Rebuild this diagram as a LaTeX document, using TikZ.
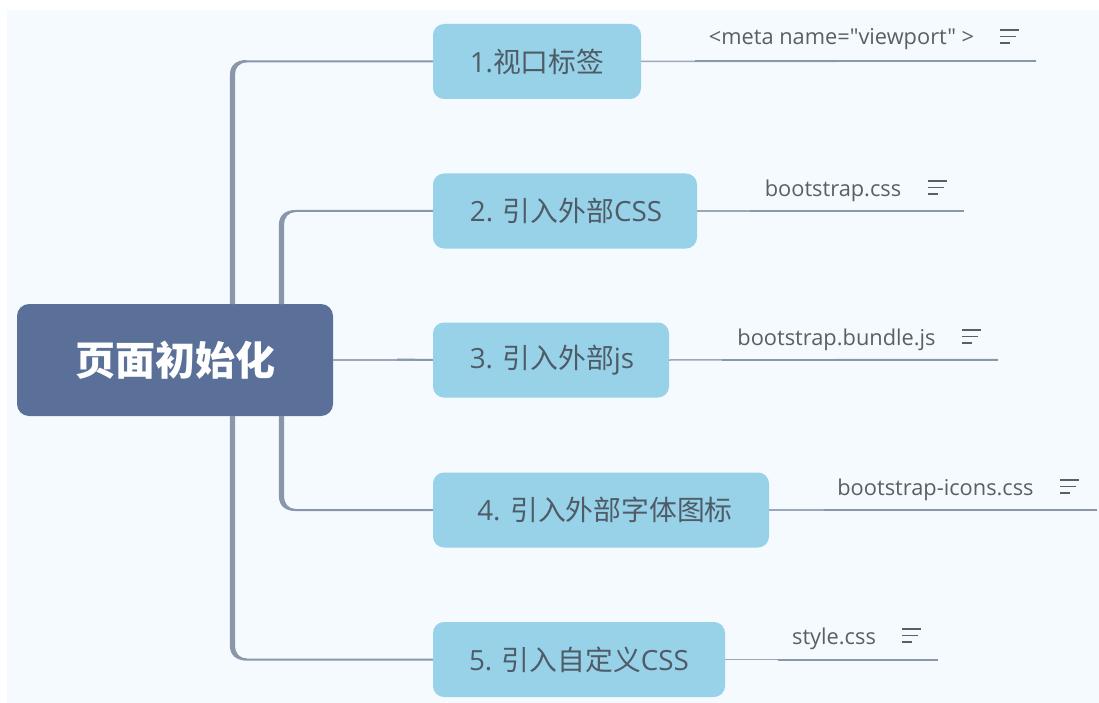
\documentclass[tikz,border=0pt]{standalone}
\usepackage{fontspec}
\setmainfont{Open Sans}
\newfontfamily\plainsans{Open Sans}
\newfontfamily\cjk{Noto Sans CJK SC}
\definecolor{bgc}{HTML}{F4FAFE}
\definecolor{rootc}{HTML}{5A7099}
\definecolor{boxc}{HTML}{97D2E8}
\definecolor{linec}{HTML}{8A97AB}
\definecolor{linel}{HTML}{9CA7B8}
\definecolor{textc}{HTML}{4F5B66}
\definecolor{leaftext}{HTML}{5A5F66}
\tikzset{
  rootbox/.style={draw=none,fill=rootc,rounded corners=12pt,inner sep=0pt,text=white,font=\cjk\fontsize{40}{44}\selectfont\bfseries},
  topic/.style={draw=none,fill=boxc,rounded corners=11pt,inner sep=0pt,text=textc,minimum height=75pt,font=\fontsize{27.8}{32}\selectfont},
  leaf/.style={inner sep=0pt,text=leaftext,anchor=base,font=\plainsans\fontsize{21.8}{26}\selectfont},
  branch/.style={draw=linec,line width=2pt,rounded corners=14pt},
  thinline/.style={draw=linel,line width=1.5pt},
  underline/.style={draw=linec,line width=2pt},
  noteline/.style={draw=leaftext,line width=1.4pt},
}
\newcommand{\taper}[4]{% x, ystart, ytarget, sign
  \fill[linec] ({#1-2.6},#2) -- ({#1-2.6},{#3-#4*14})
    .. controls ({#1-2.6},{#3-#4*4}) and ({#1+4},{#3+#4*1}) .. ({#1+14},{#3+#4*1})
    -- ({#1+14},{#3-#4*1})
    .. controls ({#1+7},{#3-#4*1}) and ({#1+2.6},{#3-#4*6}) .. ({#1+2.6},{#3-#4*14})
    -- ({#1+2.6},#2) -- cycle;}
\newcommand{\noteicon}[2]{% left x, top y
  \draw[noteline] (#1,#2) -- ++(19,0);
  \draw[noteline] (#1,{#2+6.5}) -- ++(16,0);
  \draw[noteline] (#1,{#2+13}) -- ++(10,0);}
\begin{document}
\begin{tikzpicture}[x=1pt,y=-1pt]
\useasboundingbox (0,0) rectangle (1099,703);
\fill[white] (0,0) rectangle (1099,703);
\fill[bgc] (7,10) rectangle (1099,703);

% connector ends
\coordinate (e1) at (1036,61);
\coordinate (e2) at (964,211);
\coordinate (e3) at (998,359.5);
\coordinate (e4) at (1097,510);
\coordinate (e5) at (938,659.5);
\coordinate (s1) at (695,61);
\coordinate (s2) at (750,211);
\coordinate (s3) at (722,359.5);
\coordinate (s4) at (824,510);
\coordinate (s5) at (778,659.5);
\coordinate (m3) at (397,359.5);

% nodes
\node[rootbox,minimum width=316pt,minimum height=112pt] (root) at (175,360) {页面初始化};
\node[topic,minimum width=208pt] (n1) at (537,61.5) {1.{\cjk 视口标签}};
\node[topic,minimum width=264pt] (n2) at (565,211) {\hspace{2pt}2. {\cjk 引入外部}CSS};
\node[topic,minimum width=236pt] (n3) at (551,360) {\hspace{2pt}3. {\cjk 引入外部}js};
\node[topic,minimum width=336pt] (n4) at (601,510) {\hspace{8pt}4. {\cjk 引入外部字体图标}};
\node[topic,minimum width=292pt] (n5) at (579,659.5) {5. {\cjk 引入自定义}CSS};

% branches
\draw[branch] (232.5,304) |- (n1.west);
\taper{232.5}{304}{61}{-1}
\draw[branch] (281.5,304) |- (n2.west);
\taper{281.5}{304}{211}{-1}
\draw[thinline] (root.east) -- (n3.west);
\draw[underline] (m3) -- (n3.west);
\draw[branch] (281.5,416) |- (n4.west);
\taper{281.5}{416}{510}{1}
\draw[branch] (232.5,416) |- (n5.west);
\taper{232.5}{416}{659.5}{1}

% leaves
\draw[thinline] (n1.east) -- (e1); \draw[underline] (s1) -- (e1);
\draw[thinline] (n2.east) -- (e2); \draw[underline] (s2) -- (e2);
\draw[thinline] (n3.east) -- (e3); \draw[underline] (s3) -- (e3);
\draw[thinline] (n4.east) -- (e4); \draw[underline] (s4) -- (e4);
\draw[thinline] (n5.east) -- (e5); \draw[underline] (s5) -- (e5);

\node[leaf] (l1) at (841.5,45) {<meta name="viewport" >};
\node[leaf] (l2) at (833,197) {bootstrap.css};
\node[leaf] (l3) at (836.5,345) {bootstrap.bundle.js};
\node[leaf] (l4) at (935.5,495) {bootstrap-icons.css};
\node[leaf] (l5) at (834,644) {style.css};

\noteicon{1000}{30}
\noteicon{928}{181}
\noteicon{962}{330}
\noteicon{1060}{480}
\noteicon{902}{629}
\end{tikzpicture}
\end{document}
